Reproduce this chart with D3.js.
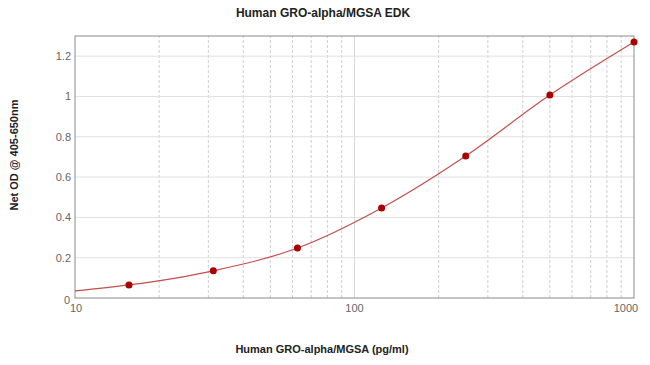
<!DOCTYPE html>
<html>
<head>
<meta charset="utf-8">
<script src="https://cdn.jsdelivr.net/npm/d3@7"></script>
<style>
  body { margin: 0; background: #fff; }
  svg { font-family: Arial, "Liberation Sans", sans-serif; }
</style>
</head>
<body>
<svg width="650" height="365"></svg>
<script>
// standard points (pg/ml) and net OD
const concentrations = [15.6, 31.25, 62.5, 125, 250, 500, 1000];
const odValues = [0.065, 0.135, 0.248, 0.447, 0.705, 1.007, 1.27];
// fitted curve
const curveX = [10, 15.6, 31.25, 62.5, 125, 250, 500, 1000];
const curveY = [0.035, 0.065, 0.135, 0.248, 0.447, 0.705, 1.007, 1.27];
const yTicks = [0, 0.2, 0.4, 0.6, 0.8, 1, 1.2];
const xTicks = [10, 100, 1000];

const svg = d3.select("svg");
const margin = {left: 75, right: 16, top: 36, bottom: 67};
const width = 650, height = 365;

const x = d3.scaleLog().domain([10, 1000]).range([margin.left, width - margin.right]);
const y = d3.scaleLinear().domain([0, 1.3]).range([height - margin.bottom, margin.top]);

// minor log grid
const minor = [];
[10, 100].forEach(dec => { for (let k = 2; k <= 9; k++) minor.push(dec * k); });

svg.append("g").selectAll("line")
    .data(minor)
    .enter().append("line")
    .attr("x1", d => x(d)).attr("x2", d => x(d))
    .attr("y1", y(0)).attr("y2", margin.top)
    .attr("stroke", "#cfcfcf")
    .attr("stroke-dasharray", "3,2");

svg.append("g").selectAll("line")
    .data([100])
    .enter().append("line")
    .attr("x1", d => x(d)).attr("x2", d => x(d))
    .attr("y1", y(0)).attr("y2", margin.top)
    .attr("stroke", "#d8d8d8");

svg.append("g").selectAll("line")
    .data(yTicks.filter(d => d > 0))
    .enter().append("line")
    .attr("x1", margin.left).attr("x2", width - margin.right)
    .attr("y1", d => y(d)).attr("y2", d => y(d))
    .attr("stroke", "#e0e0e0");

// frame
svg.append("rect")
    .attr("x", margin.left).attr("y", margin.top)
    .attr("width", width - margin.right - margin.left)
    .attr("height", y(0) - margin.top)
    .attr("fill", "none")
    .attr("stroke", "#8a8a8a");

// tick labels
svg.append("g").selectAll("text")
    .data(yTicks)
    .enter().append("text")
    .attr("x", d => d === 0 ? margin.left - 5 : margin.left - 4)
    .attr("y", d => d === 0 ? y(d) + 6 : y(d) + 4)
    .attr("text-anchor", "end")
    .attr("font-size", 11)
    .attr("fill", "#666")
    .text(d => d3.format("~g")(d));

svg.append("g").selectAll("text")
    .data(xTicks)
    .enter().append("text")
    .attr("x", d => x(d) + (d === 1000 ? -8 : d === 10 ? 1 : 0))
    .attr("y", y(0) + 14)
    .attr("text-anchor", "middle")
    .attr("font-size", 11)
    .attr("fill", "#666")
    .text(d => d);

// curve
const line = d3.line()
    .x((d, i) => x(d))
    .y((d, i) => y(curveY[i]))
    .curve(d3.curveMonotoneX);

svg.append("path")
    .datum(curveX)
    .attr("d", line)
    .attr("fill", "none")
    .attr("stroke", "#c0504d")
    .attr("stroke-width", 1.2);

svg.append("g").selectAll("circle")
    .data(concentrations)
    .enter().append("circle")
    .attr("cx", d => x(d))
    .attr("cy", (d, i) => y(odValues[i]))
    .attr("r", 3.5)
    .attr("fill", "#aa0000");

// titles
svg.append("text")
    .attr("x", 323).attr("y", 17)
    .attr("text-anchor", "middle")
    .attr("font-size", 12).attr("font-weight", "bold")
    .attr("fill", "#222")
    .text("Human GRO-alpha/MGSA EDK");

svg.append("text")
    .attr("x", 322).attr("y", 353)
    .attr("text-anchor", "middle")
    .attr("font-size", 11).attr("font-weight", "bold")
    .attr("fill", "#222")
    .text("Human GRO-alpha/MGSA (pg/ml)");

svg.append("text")
    .attr("transform", "translate(18,155) rotate(-90)")
    .attr("text-anchor", "middle")
    .attr("font-size", 11).attr("font-weight", "bold")
    .attr("fill", "#222")
    .text("Net OD @ 405-650nm");
</script>
</body>
</html>
